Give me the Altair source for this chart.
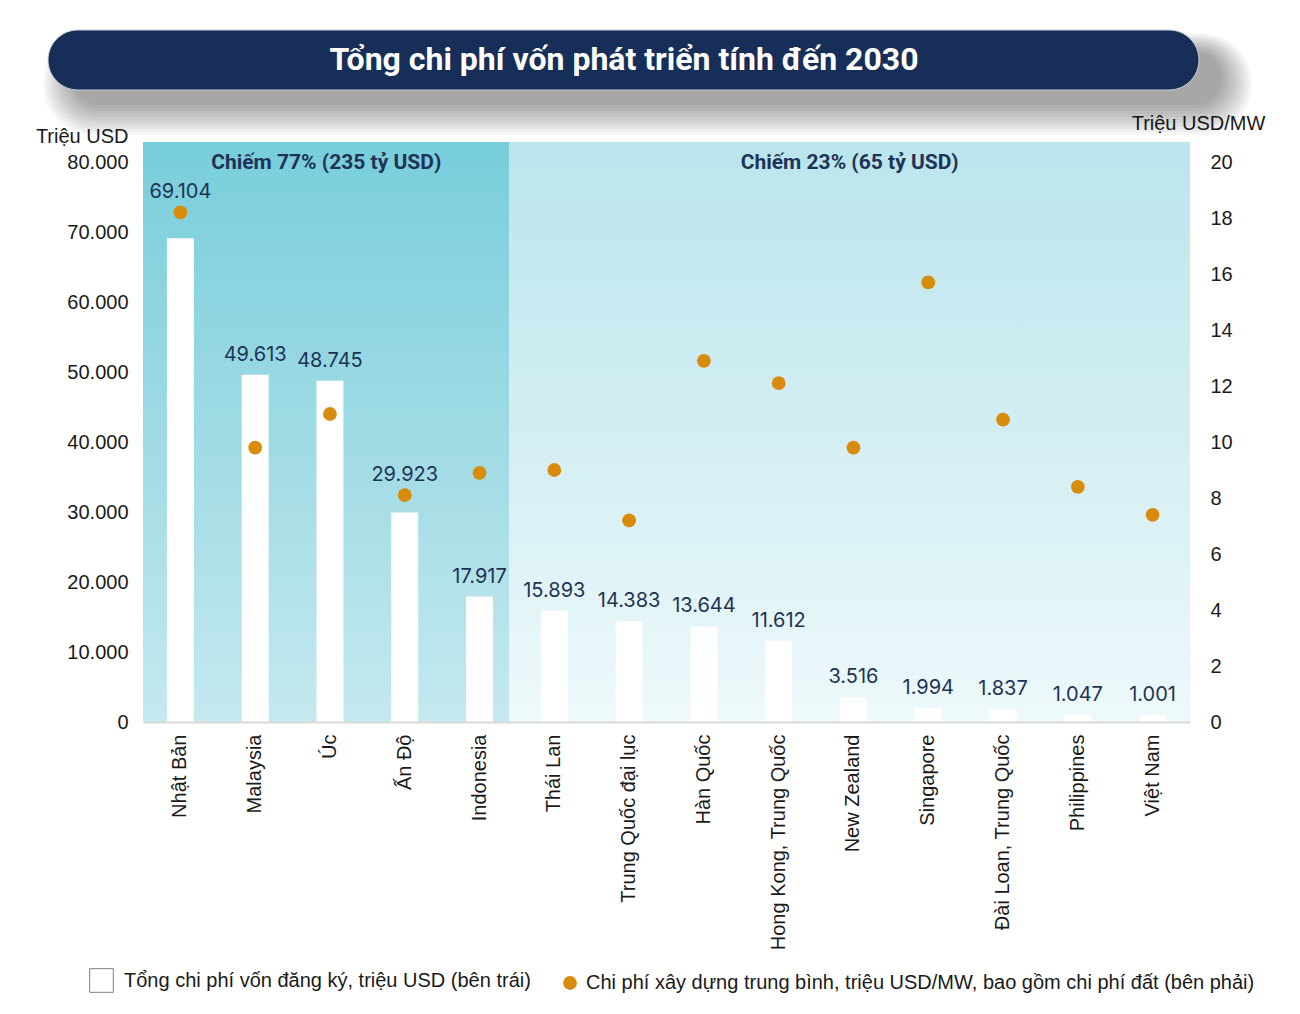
import altair as alt
import pandas as pd

# ---------------- data ----------------
countries = ["Nhật Bản", "Malaysia", "Úc", "Ấn Độ", "Indonesia", "Thái Lan",
             "Trung Quốc đại lục", "Hàn Quốc", "Hong Kong, Trung Quốc", "New Zealand",
             "Singapore", "Đài Loan, Trung Quốc", "Philippines", "Việt Nam"]
capex = [69104, 49613, 48745, 29923, 17917, 15893, 14383, 13644, 11612, 3516,
         1994, 1837, 1047, 1001]
cost_per_mw = [18.2, 9.8, 11.0, 8.1, 8.9, 9.0, 7.2, 12.9, 12.1, 9.8, 15.7, 10.8, 8.4, 7.4]

region_labels = ["Chiếm 77% (235 tỷ USD)", "Chiếm 23% (65 tỷ USD)"]
region_start = [0, 4.9]
region_end = [4.9, 14]

left_ticks = [0, 10000, 20000, 30000, 40000, 50000, 60000, 70000, 80000]
right_ticks = [0, 2, 4, 6, 8, 10, 12, 14, 16, 18, 20]

TITLE = "Tổng chi phí vốn phát triển tính đến 2030"
LEFT_TITLE = "Triệu USD"
RIGHT_TITLE = "Triệu USD/MW"
BAR_SERIES = "Tổng chi phí vốn đăng ký, triệu USD (bên trái)"
DOT_SERIES = "Chi phí xây dựng trung bình, triệu USD/MW, bao gồm chi phí đất (bên phải)"

# ---------------- layout / style ----------------
W, H = 1047, 580
YMAX = 80000 * 580 / 560
RMAX = 20 * 580 / 560
RATIO = YMAX / RMAX
NAVY = "#172f58"
ORANGE = "#d98b0b"
TEXT = "#1a1a1a"
LABEL_NAVY = "#1e3355"
AXFONT = "Liberation Sans"
FS = 20

df = pd.DataFrame({"country": countries, "capex": capex, "cost": cost_per_mw})
df["bar_series"] = BAR_SERIES
df["dot_series"] = DOT_SERIES
df_reg = pd.DataFrame({"label": region_labels, "start": region_start, "end": region_end})
df_one = pd.DataFrame({"k": [0]})

xlin = alt.Scale(domain=[0, 14], nice=False, zero=False)
ybg = alt.Scale(domain=[0, YMAX], nice=False)

grad_left = alt.LinearGradient(
    gradient="linear", x1=0, y1=0, x2=0, y2=1,
    stops=[alt.GradientStop(color="#78cedb", offset=0),
           alt.GradientStop(color="#a6dde6", offset=0.6),
           alt.GradientStop(color="#c4e9ef", offset=1)])
grad_right = alt.LinearGradient(
    gradient="linear", x1=0, y1=0, x2=0, y2=1,
    stops=[alt.GradientStop(color="#bae5ec", offset=0),
           alt.GradientStop(color="#d8f0f4", offset=0.6),
           alt.GradientStop(color="#eef9fb", offset=1)])

bg_left = alt.Chart(df_reg.iloc[[0]]).mark_rect(fill=grad_left).encode(
    x=alt.X("start:Q", scale=xlin, axis=None), x2="end:Q",
    y=alt.Y(datum=0, type="quantitative", scale=ybg, axis=None), y2=alt.datum(YMAX))
bg_right = alt.Chart(df_reg.iloc[[1]]).mark_rect(fill=grad_right).encode(
    x=alt.X("start:Q", scale=xlin, axis=None), x2="end:Q",
    y=alt.Y(datum=0, type="quantitative", scale=ybg, axis=None), y2=alt.datum(YMAX))

region_text = alt.Chart(df_reg).transform_calculate(
    mid="(datum.start + datum.end) / 2"
).mark_text(font="Roboto", fontWeight="bold", fontSize=21, color=LABEL_NAVY,
            baseline="middle", align="center").encode(
    x=alt.X("mid:Q", scale=xlin, axis=None), y=alt.value(21), text="label:N")

# title banner with soft shadow
shadows = []
for e in range(1, 32, 3):
    shadows.append(alt.Chart(df_one).mark_rect(color="black", opacity=0.035, cornerRadius=30 + e).encode(
        x=alt.value(-95 + 26 - e), x2=alt.value(1056 + 22 + e),
        y=alt.value(-112 + 22 - e * 0.6), y2=alt.value(-52 + 14 + e)))
banner = alt.Chart(df_one).mark_rect(color=NAVY, cornerRadius=30, stroke="#c9d0dc", strokeWidth=1).encode(
    x=alt.value(-95), x2=alt.value(1056), y=alt.value(-112), y2=alt.value(-52))
banner_text = alt.Chart(df_one).mark_text(
    text=TITLE, font="Roboto", fontWeight="bold", fontSize=32, color="white",
    align="center", baseline="middle").encode(x=alt.value(481), y=alt.value(-82))

bg = alt.layer(*shadows, banner, banner_text, bg_left, bg_right, region_text)

# main bars
xband = alt.Scale(domain=countries, paddingInner=0.64, paddingOuter=0.32)
yleft = alt.Scale(domain=[0, YMAX], nice=False)
left_axis = alt.Axis(
    values=left_ticks, title=LEFT_TITLE, titleAngle=0, titleAlign="right", titleBaseline="middle",
    titleX=-15, titleY=-6, titleFont=AXFONT, titleFontSize=FS, titleFontWeight="normal",
    titleColor=TEXT, labelFont=AXFONT, labelFontSize=FS, labelColor=TEXT, labelPadding=15,
    ticks=False, domain=False, grid=False,
    labelExpr="replace(format(datum.value, ','), ',', '.')")
x_axis = alt.Axis(
    title=None, labelAngle=270, labelFont=AXFONT, labelFontSize=FS, labelColor=TEXT,
    labelPadding=12, ticks=False, domain=True, domainColor="#d9d9d9", domainWidth=2,
    labelLimit=400, zindex=1)

bars = alt.Chart(df).mark_bar().encode(
    x=alt.X("country:N", scale=xband, axis=x_axis),
    y=alt.Y("capex:Q", scale=yleft, axis=left_axis),
    color=alt.Color("bar_series:N", scale=alt.Scale(domain=[BAR_SERIES], range=["#ffffff"]),
                    legend=alt.Legend(orient="none", legendX=-54, legendY=826, title=None,
                                      symbolType="square", symbolSize=560,
                                      symbolStrokeColor="#808080", symbolStrokeWidth=1,
                                      labelFont=AXFONT, labelFontSize=FS, labelColor=TEXT,
                                      labelOffset=10, labelLimit=1000, padding=0)))

labels = alt.Chart(df).transform_calculate(
    lift=f"datum.cost * {RATIO} - datum.capex",
    label_y=f"(datum.lift > 0 && datum.lift < 6000) ? datum.cost * {RATIO} : datum.capex",
    label="replace(format(datum.capex, ','), ',', '.')"
).mark_text(dy=-20, font="Inter", fontSize=20, color=LABEL_NAVY, baseline="middle").encode(
    x=alt.X("country:N", scale=xband, axis=x_axis),
    y=alt.Y("label_y:Q", scale=yleft, axis=left_axis),
    text="label:N")

main = alt.layer(bars, labels)

dots = alt.Chart(df).mark_circle(size=190, opacity=1).encode(
    x=alt.X("country:N", scale=xband, axis=None),
    y=alt.Y("cost:Q", scale=alt.Scale(domain=[0, RMAX], nice=False),
            axis=alt.Axis(orient="right", values=right_ticks, title=RIGHT_TITLE, titleAngle=0,
                          titleAlign="center", titleBaseline="middle", titleX=8, titleY=-19,
                          titleFont=AXFONT, titleFontSize=FS, titleFontWeight="normal",
                          titleColor=TEXT, labelFont=AXFONT, labelFontSize=FS, labelColor=TEXT,
                          labelPadding=20, ticks=False, domain=False, grid=False)),
    fill=alt.Fill("dot_series:N", scale=alt.Scale(domain=[DOT_SERIES], range=[ORANGE]),
                  legend=alt.Legend(orient="none", legendX=417, legendY=831, title=None,
                                    symbolType="circle", symbolSize=190,
                                    labelFont=AXFONT, labelFontSize=FS, labelColor=TEXT,
                                    labelOffset=6, labelLimit=1000, padding=0)))

chart = alt.layer(bg, main, dots).resolve_scale(
    x="independent", y="independent"
).properties(
    width=W, height=H,
    padding={"left": 27, "top": 21, "right": 5, "bottom": 5},
    background="white"
).configure_view(stroke=None)

chart.save("out.html", embed_options={"renderer": "svg", "actions": False})
